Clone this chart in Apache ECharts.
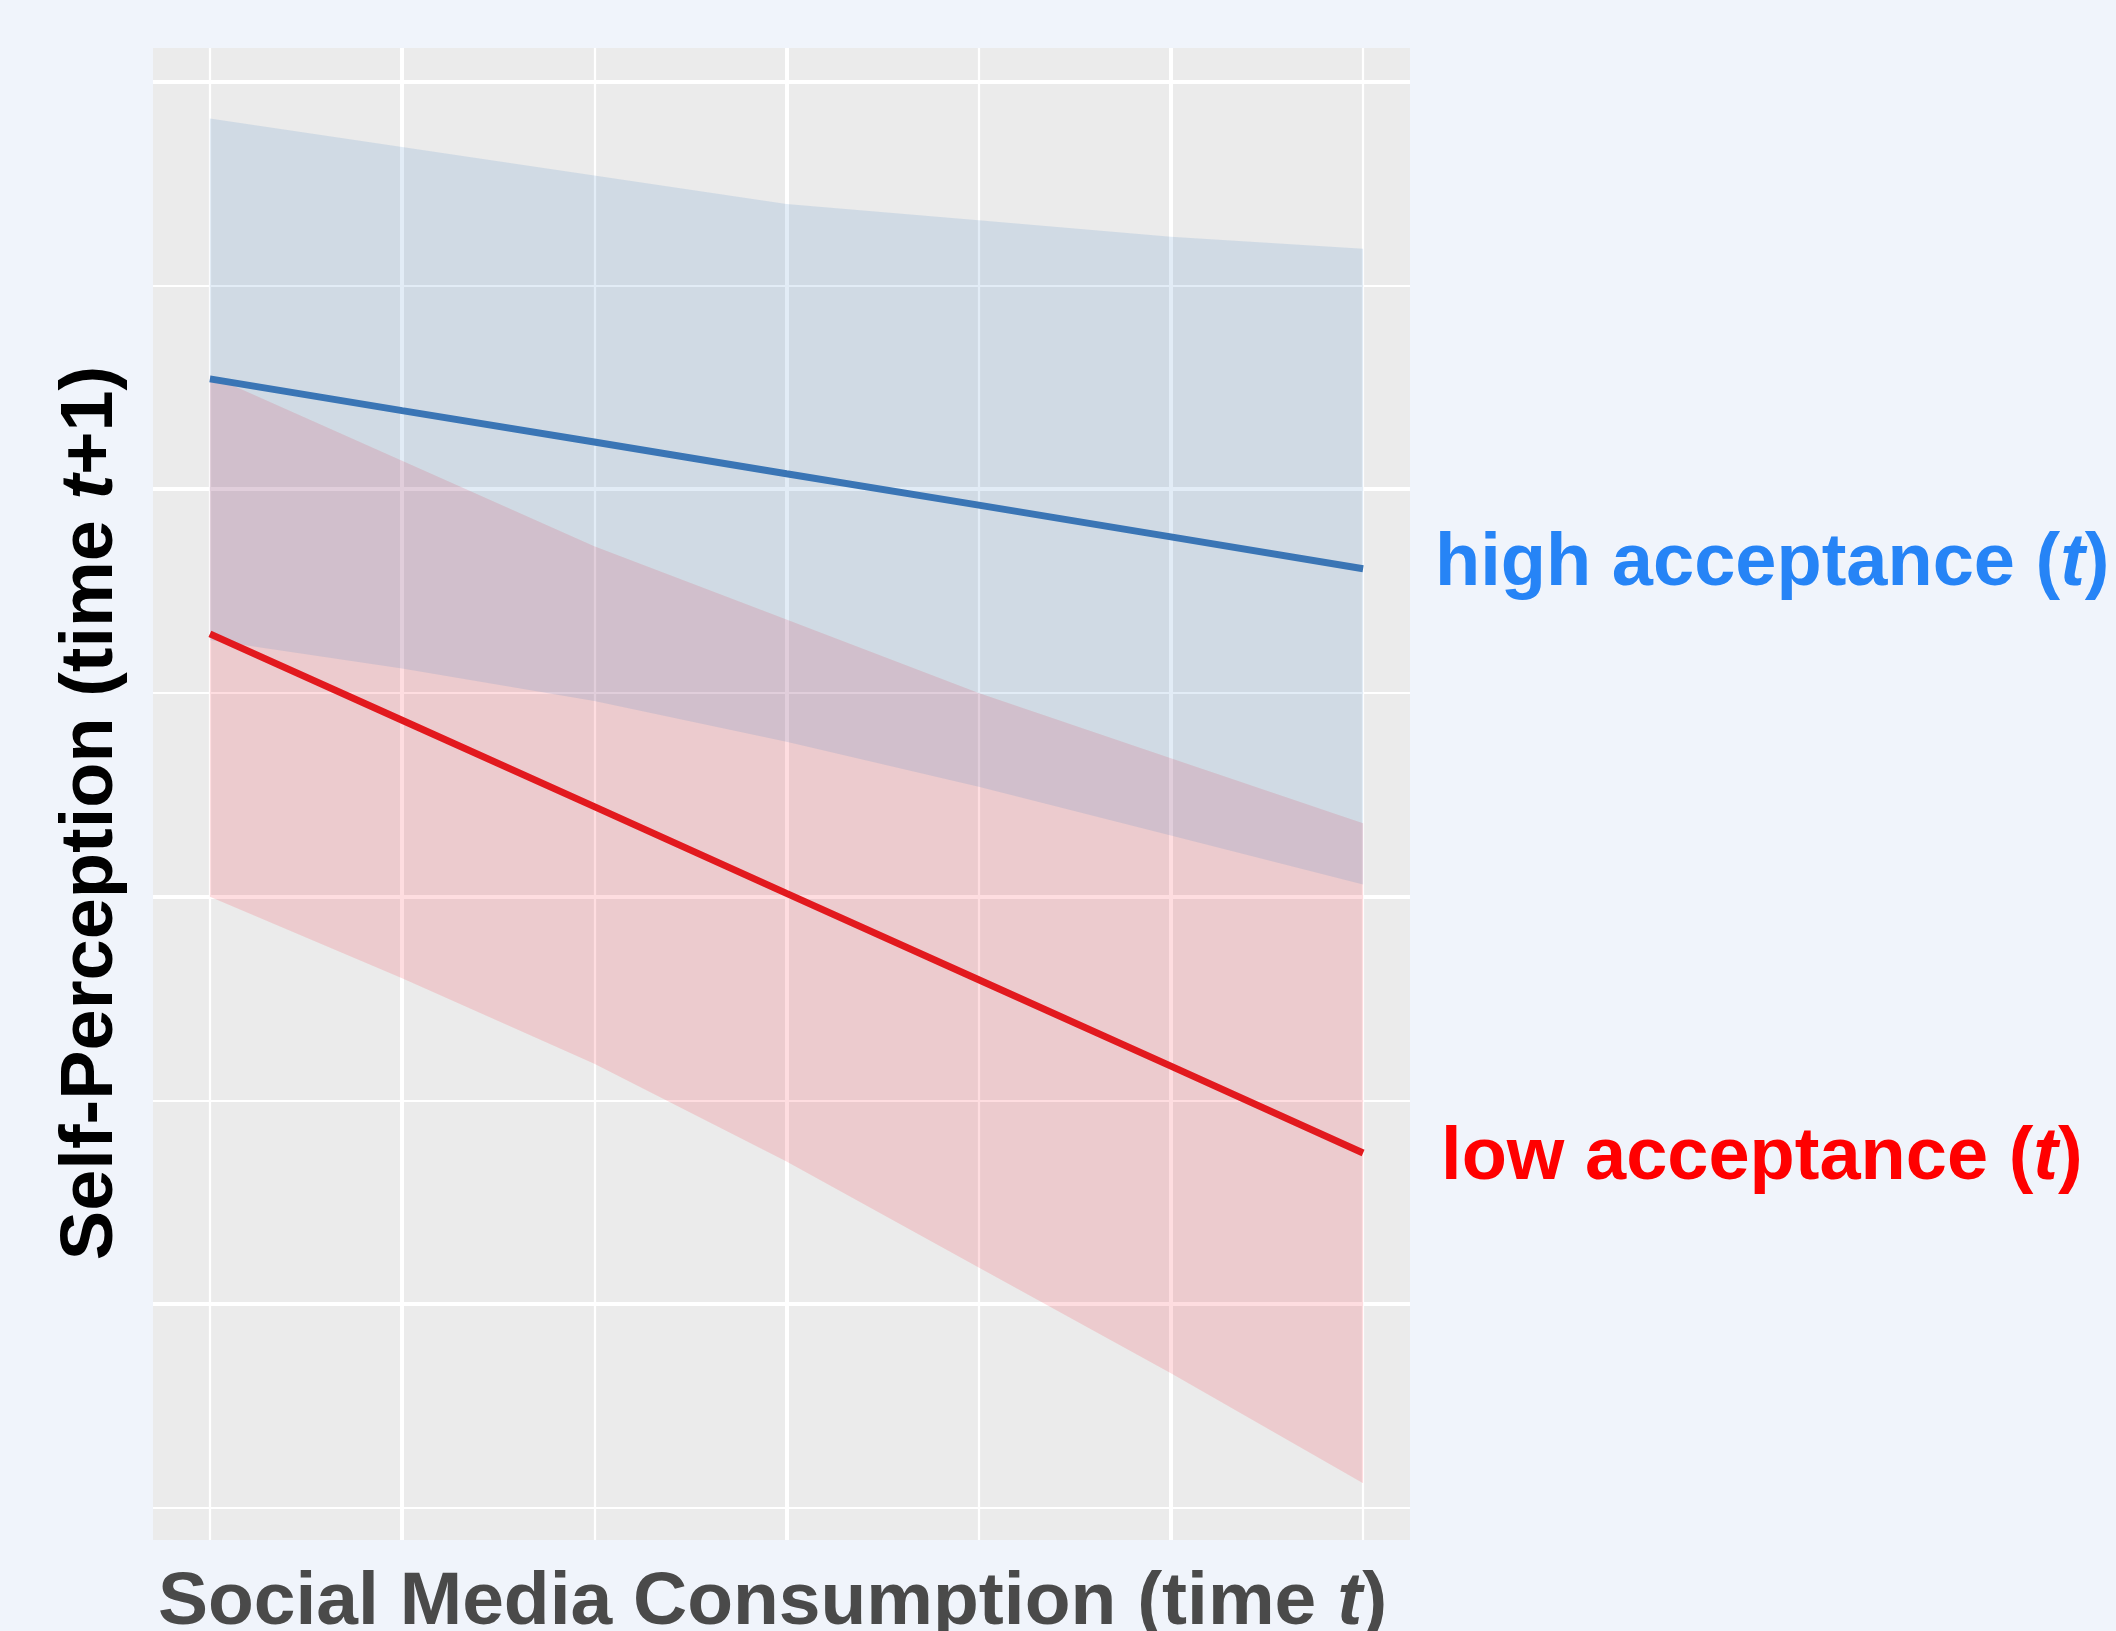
<!DOCTYPE html>
<html>
<head>
<meta charset="utf-8">
<script src="https://cdn.jsdelivr.net/npm/echarts@6/dist/echarts.min.js"></script>
<style>
  html, body { margin: 0; padding: 0; background: #F0F4FB; }
  #main { width: 2116px; height: 1631px; }
</style>
</head>
<body>
<div id="main"></div>
<script>
// social media consumption (standardised, no tick labels in the original)
var xValues = [-1.5, -1, -0.5, 0, 0.5, 1, 1.5];

// high acceptance: fitted line + confidence band
var highFit = [2.271, 2.193, 2.116, 2.038, 1.961, 1.883, 1.805];
var highUpper = [2.91, 2.84, 2.77, 2.70, 2.66, 2.62, 2.59];
var highLower = [1.63, 1.56, 1.48, 1.38, 1.27, 1.15, 1.03];

// low acceptance: fitted line + confidence band
var lowFit = [1.645, 1.433, 1.221, 1.008, 0.796, 0.584, 0.371];
var lowUpper = [2.28, 2.07, 1.86, 1.68, 1.50, 1.34, 1.18];
var lowLower = [1.00, 0.80, 0.59, 0.35, 0.09, -0.17, -0.44];

var FONT = '"Liberation Sans", Arial, Helvetica, sans-serif';

function pairs(ys) {
    return xValues.map(function (x, i) { return [x, ys[i]]; });
}

// one polygon per band: upper edge left->right, lower edge right->left
function ribbon(upper, lower, fill) {
    return function (params, api) {
        var pts = [];
        for (var i = 0; i < xValues.length; i++) pts.push(api.coord([xValues[i], upper[i]]));
        for (var j = xValues.length - 1; j >= 0; j--) pts.push(api.coord([xValues[j], lower[j]]));
        return { type: 'polygon', shape: { points: pts }, style: { fill: fill }, silent: true };
    };
}

var chart = echarts.init(document.getElementById('main'), null, { renderer: 'canvas' });

var gridLines = {
    splitLine: { show: true, showMinLine: false, showMaxLine: false, lineStyle: { color: '#FFFFFF', width: 4 } },
    minorTick: { show: false, splitNumber: 2 },
    minorSplitLine: { show: true, lineStyle: { color: '#FFFFFF', width: 2.2 } },
    axisLine: { show: false },
    axisTick: { show: false },
    axisLabel: { show: false }
};

var option = {
    backgroundColor: '#F0F4FB',
    animation: false,
    grid: {
        left: 153, top: 48, right: 706, bottom: 91,
        show: true, backgroundColor: '#EBEBEB', borderWidth: 0,
        outerBoundsMode: 'none'
    },
    xAxis: Object.assign({
        type: 'value',
        min: -1.648, max: 1.622,
        minInterval: 1, maxInterval: 1,
        name: 'Social Media Consumption (time {it|t})',
        nameLocation: 'middle',
        nameGap: 26,
        nameTextStyle: {
            fontFamily: FONT, fontSize: 75, fontWeight: 'bold', color: '#4A4A4A',
            padding: [0, 18, 0, 0],
            rich: {
                it: { fontFamily: FONT, fontSize: 75, fontWeight: 'bold', fontStyle: 'italic', color: '#4A4A4A' }
            }
        }
    }, gridLines),
    yAxis: Object.assign({
        type: 'value',
        min: -0.579, max: 3.083,
        minInterval: 1, maxInterval: 1,
        name: 'Self-Perception (time {it|t}+1)',
        nameLocation: 'middle',
        nameGap: 24,
        nameTextStyle: {
            fontFamily: FONT, fontSize: 74, fontWeight: 'bold', color: '#000000',
            padding: [0, 38, 0, 0],
            rich: {
                it: { fontFamily: FONT, fontSize: 74, fontWeight: 'bold', fontStyle: 'italic', color: '#000000' }
            }
        }
    }, gridLines),
    series: [
        {
            name: 'low band', type: 'custom', coordinateSystem: 'cartesian2d',
            data: [0], renderItem: ribbon(lowUpper, lowLower, 'rgba(250, 0, 20, 0.135)'), z: 1
        },
        {
            name: 'high band', type: 'custom', coordinateSystem: 'cartesian2d',
            data: [0], renderItem: ribbon(highUpper, highLower, 'rgba(50, 120, 190, 0.14)'), z: 2
        },
        {
            name: 'high acceptance', type: 'line', data: pairs(highFit),
            symbol: 'none', z: 4,
            lineStyle: { color: '#3A75B5', width: 7 },
            endLabel: {
                show: true, distance: 72, offset: [0, -4],
                formatter: 'high acceptance ({it|t})',
                fontFamily: FONT, fontSize: 74, fontWeight: 'bold', color: '#2684F6',
                rich: {
                    it: { fontFamily: FONT, fontSize: 74, fontWeight: 'bold', fontStyle: 'italic', color: '#2684F6' }
                }
            }
        },
        {
            name: 'low acceptance', type: 'line', data: pairs(lowFit),
            symbol: 'none', z: 4,
            lineStyle: { color: '#E2191E', width: 7 },
            endLabel: {
                show: true, distance: 78, offset: [0, 6],
                formatter: 'low acceptance ({it|t})',
                fontFamily: FONT, fontSize: 74, fontWeight: 'bold', color: '#FF0000',
                rich: {
                    it: { fontFamily: FONT, fontSize: 74, fontWeight: 'bold', fontStyle: 'italic', color: '#FF0000' }
                }
            }
        }
    ]
};

chart.setOption(option);
</script>
</body>
</html>
